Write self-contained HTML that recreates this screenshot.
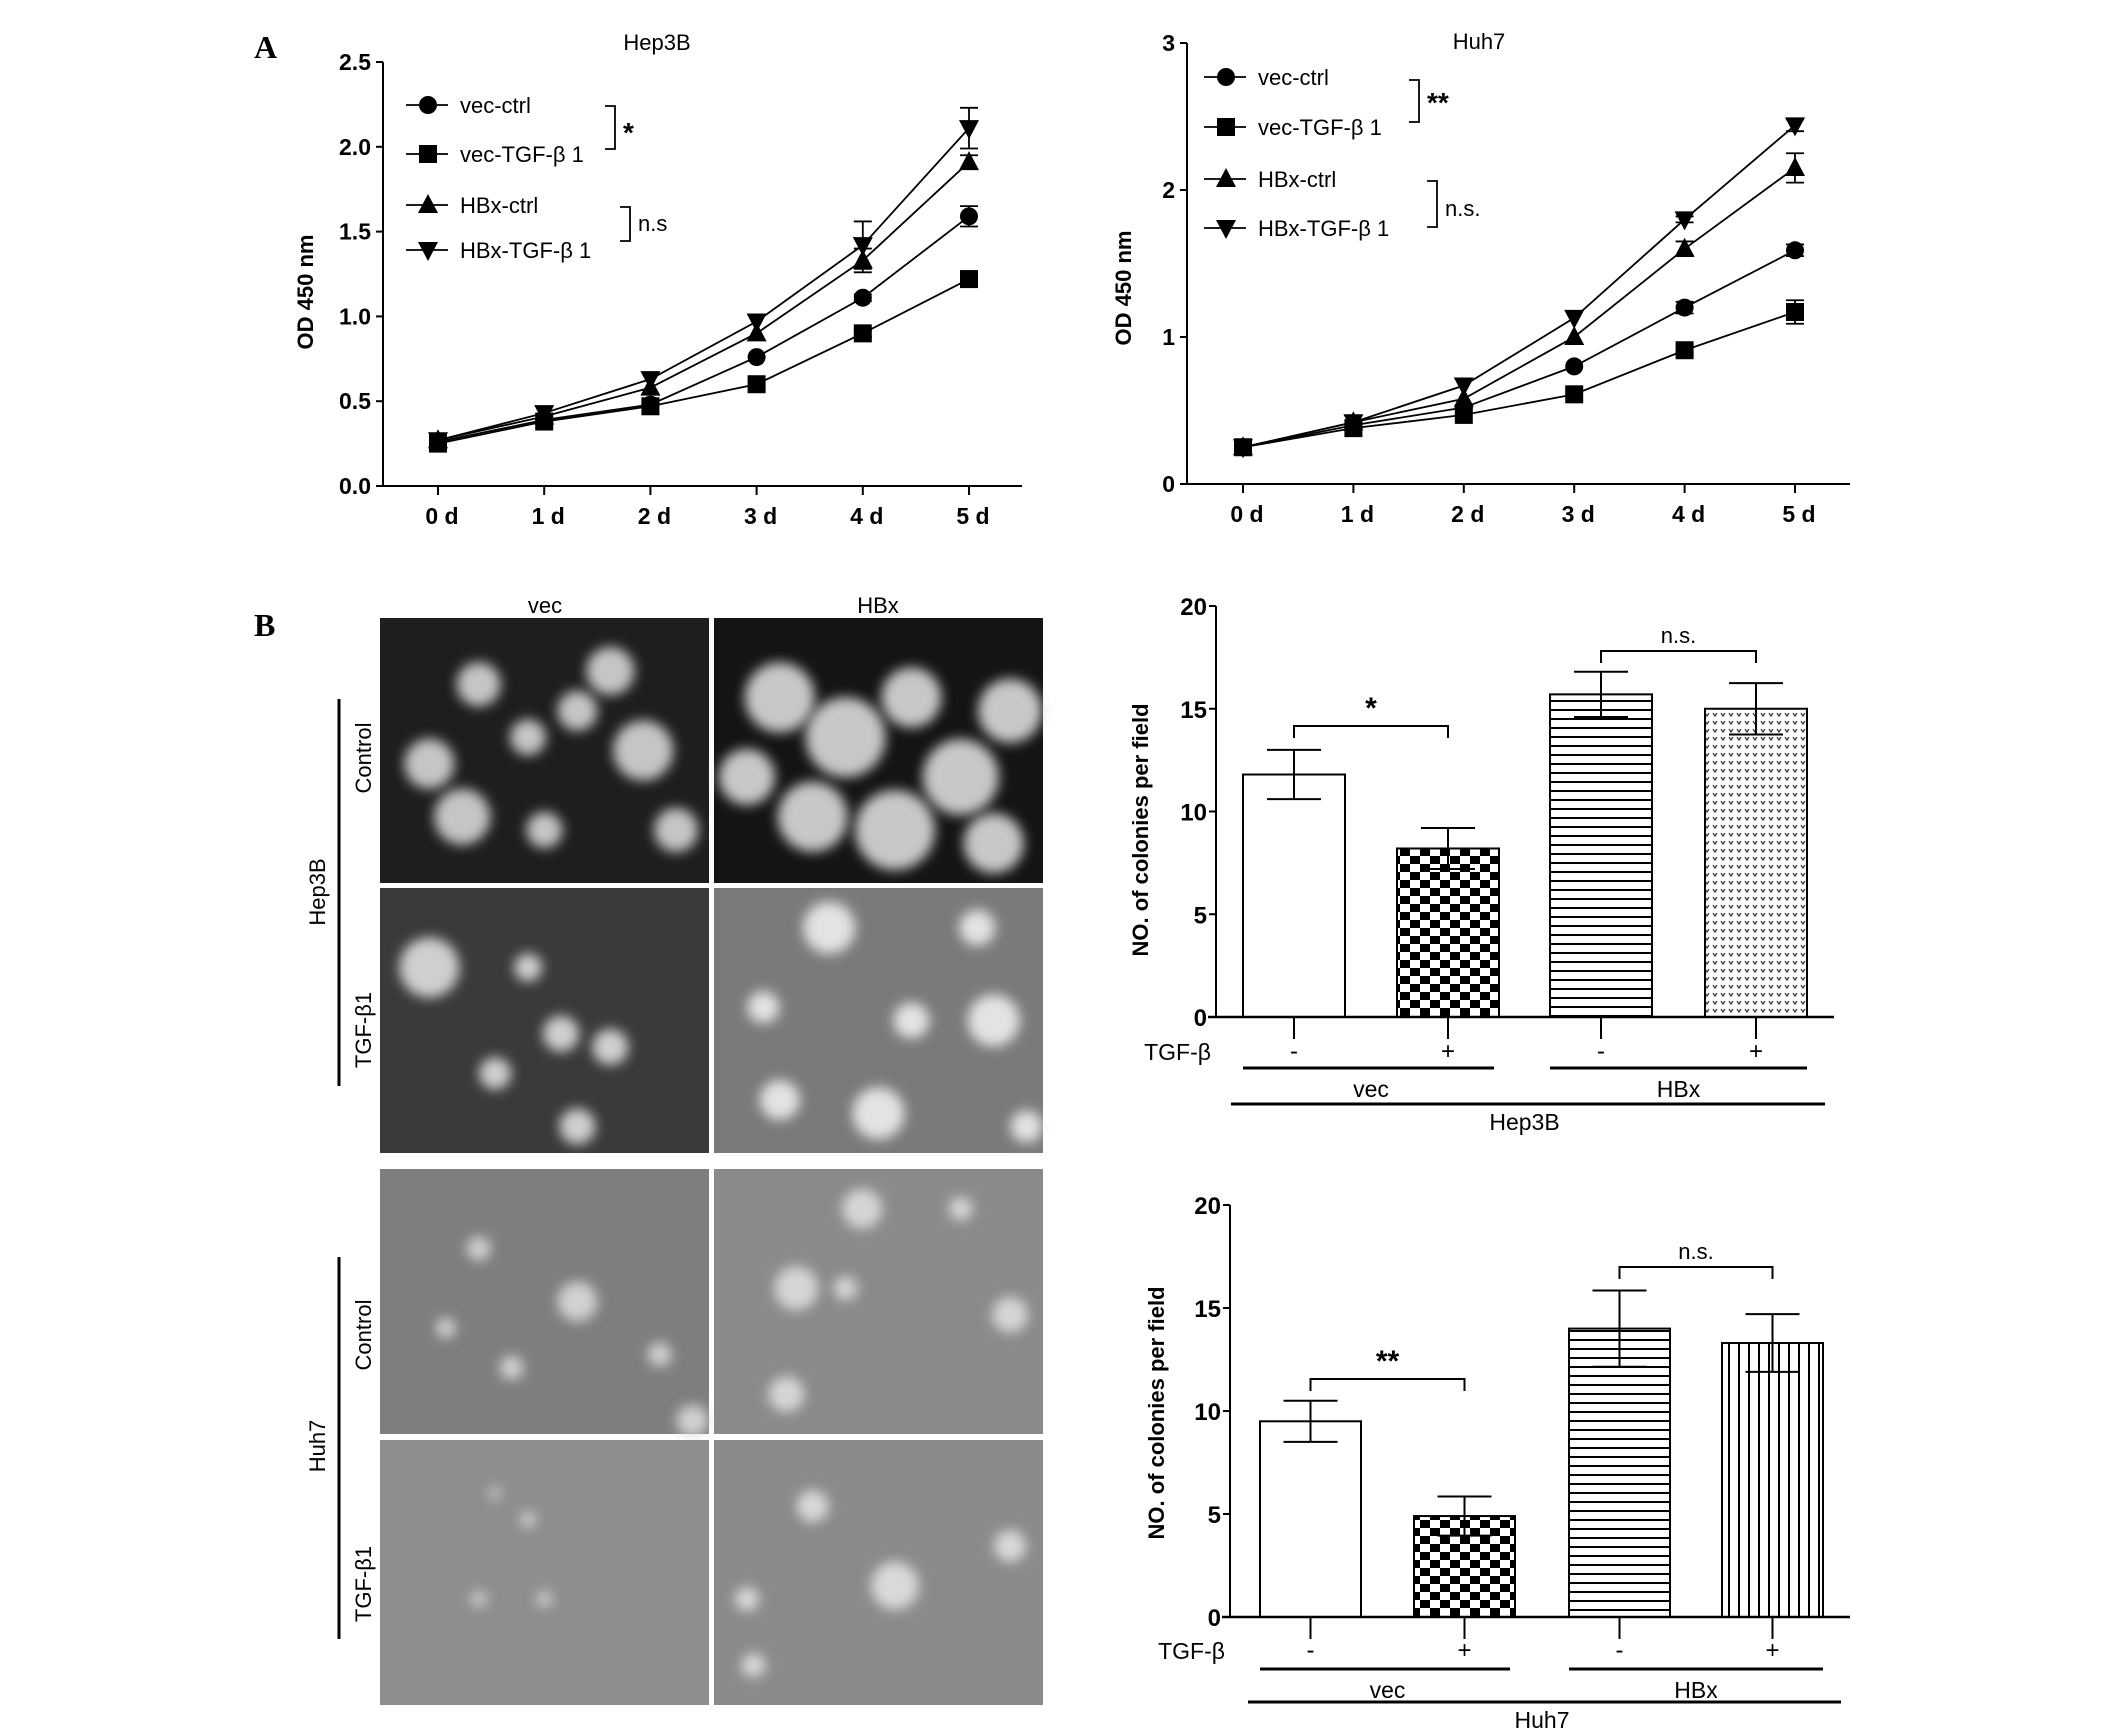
<!DOCTYPE html>
<html><head><meta charset="utf-8"><style>
html,body{margin:0;padding:0;background:#fff;}
svg{display:block;}
text{font-family:"Liberation Sans",sans-serif;fill:#000;}
</style></head><body>
<svg id="fig" width="2126" height="1729" viewBox="0 0 2126 1729" xmlns="http://www.w3.org/2000/svg">
<defs>
<pattern id="pCheck" width="20" height="16" patternUnits="userSpaceOnUse"><rect width="20" height="16" fill="#fff"/><rect width="10" height="8" fill="#000"/><rect x="10" y="8" width="10" height="8" fill="#000"/></pattern>
<pattern id="pHor" width="10" height="9" patternUnits="userSpaceOnUse"><rect width="10" height="9" fill="#fff"/><rect y="7" width="10" height="2" fill="#000"/></pattern>
<pattern id="pVer" width="10" height="10" patternUnits="userSpaceOnUse"><rect width="10" height="10" fill="#fff"/><rect x="8" width="2" height="10" fill="#000"/></pattern>
<pattern id="pDot" width="8" height="8" patternUnits="userSpaceOnUse"><rect width="8" height="8" fill="#fff"/><path d="M1 1 L3 4 L5 1" stroke="#333" stroke-width="1.2" fill="none"/></pattern>
<filter id="blur6" x="-150%" y="-150%" width="400%" height="400%"><feGaussianBlur stdDeviation="6"/></filter>
</defs>
<text x="254" y="58" style="font-family:'Liberation Serif',serif;font-weight:bold;font-size:32px">A</text>
<text x="254" y="636" style="font-family:'Liberation Serif',serif;font-weight:bold;font-size:32px">B</text>
<g id="photos"></g>
<g id="lc1"></g>
<g id="lc2"></g>
<g id="bc1"></g>
<g id="bc2"></g>
</svg>
<script>
// ---- growth curve data ----
const days = ["0 d","1 d","2 d","3 d","4 d","5 d"];
const seriesNames = ["vec-ctrl","vec-TGF-β 1","HBx-ctrl","HBx-TGF-β 1"];
const hepVecCtrl = [0.26,0.39,0.48,0.76,1.11,1.59];
const hepVecTgf  = [0.25,0.38,0.47,0.60,0.90,1.22];
const hepHbxCtrl = [0.27,0.41,0.58,0.90,1.33,1.91];
const hepHbxTgf  = [0.27,0.43,0.63,0.97,1.42,2.11];
const hepErr5 = [0.06,0.03,0.04,0.12];
const hepErr4 = [0.02,0.02,0.07,0.14];
const huhVecCtrl = [0.25,0.40,0.52,0.80,1.20,1.59];
const huhVecTgf  = [0.25,0.38,0.47,0.61,0.91,1.17];
const huhHbxCtrl = [0.25,0.42,0.58,1.00,1.60,2.15];
const huhHbxTgf  = [0.25,0.42,0.67,1.13,1.80,2.44];
const huhErr5 = [0.04,0.08,0.10,0.04];
const huhErr4 = [0.04,0.02,0.05,0.02];
const hepTicks = ["0.0","0.5","1.0","1.5","2.0","2.5"];
const huhTicks = ["0","1","2","3"];
// ---- colony data ----
const barGroups = ["-","+","-","+"];
const hepColonies = [11.8,8.2,15.7,15.0];
const hepColErr = [1.2,1.0,1.1,1.25];
const huhColonies = [9.5,4.9,14.0,13.3];
const huhColErr = [1.0,0.95,1.85,1.4];
const colTicks = ["0","5","10","15","20"];

const NS="http://www.w3.org/2000/svg";
function mk(parent,tag,attrs,txt){const e=document.createElementNS(NS,tag);for(const k in attrs)e.setAttribute(k,attrs[k]);if(txt!==undefined)e.textContent=txt;parent.appendChild(e);return e;}

function marker(g,kind,x,y){
  let m;
  if(kind===0){m=mk(g,'circle',{cx:x,cy:y,r:9,fill:'#000'});}
  else if(kind===1){m=mk(g,'rect',{x:x-9,y:y-9,width:18,height:18,fill:'#000'});}
  else if(kind===2){m=mk(g,'path',{d:`M${x} ${y-11}L${x+10} ${y+8}L${x-10} ${y+8}Z`,fill:'#000'});}
  else {m=mk(g,'path',{d:`M${x} ${y+11}L${x+10} ${y-8}L${x-10} ${y-8}Z`,fill:'#000'});}
  
  
}

function lineChart(id,o){
  const g=document.getElementById(id);
  const sx=i=>o.x0+(o.x5-o.x0)*i/5;
  const sy=v=>o.yb-(o.yb-o.yt)*v/o.ymax;
  let a=mk(g,'line',{x1:o.ax,y1:o.yt,x2:o.ax,y2:o.yb,stroke:'#000','stroke-width':2});
  
  a=mk(g,'line',{x1:o.ax,y1:o.yb,x2:o.xe,y2:o.yb,stroke:'#000','stroke-width':2});
  
  o.ticks.forEach((t,i)=>{const v=o.ymax*i/(o.ticks.length-1);const y=sy(v);
    mk(g,'line',{x1:o.ax-7,y1:y,x2:o.ax,y2:y,stroke:'#000','stroke-width':2});
    const tx=mk(g,'text',{x:o.ax-12,y:y+8,'text-anchor':'end','font-size':23,'font-weight':'bold'},t);
    });
  days.forEach((d,i)=>{const x=sx(i);
    mk(g,'line',{x1:x,y1:o.yb,x2:x,y2:o.yb+9,stroke:'#000','stroke-width':2});
    const tx=mk(g,'text',{x:x+4,y:o.yb+38,'text-anchor':'middle','font-size':23,'font-weight':'bold'},d);
    });
  let t=mk(g,'text',{x:o.tx,y:o.ty,'text-anchor':'middle','font-size':22},o.title);
  
  t=mk(g,'text',{transform:`translate(${o.ytx},${o.yty}) rotate(-90)`,'text-anchor':'middle','font-size':22,'font-weight':'bold'},'OD  450 nm');
  t.setAttribute('xml:space','preserve');
  
  o.series.forEach((s,k)=>{
    const p=mk(g,'polyline',{points:s.map((v,i)=>sx(i)+','+sy(v)).join(' '),fill:'none',stroke:'#000','stroke-width':1.8});
    
    [[4,o.e4],[5,o.e5]].forEach(([i,e])=>{const x=sx(i);
      mk(g,'line',{x1:x,y1:sy(s[i]+e[k]),x2:x,y2:sy(s[i]-e[k]),stroke:'#000','stroke-width':1.8});
      mk(g,'line',{x1:x-9,y1:sy(s[i]+e[k]),x2:x+9,y2:sy(s[i]+e[k]),stroke:'#000','stroke-width':1.8});
      mk(g,'line',{x1:x-9,y1:sy(s[i]-e[k]),x2:x+9,y2:sy(s[i]-e[k]),stroke:'#000','stroke-width':1.8});});
    s.forEach((v,i)=>marker(g,k,sx(i),sy(v)));
  });
  seriesNames.forEach((n,k)=>{const y=o.ly[k];
    mk(g,'line',{x1:o.lmx-22,y1:y,x2:o.lmx+20,y2:y,stroke:'#000','stroke-width':1.8});
    marker(g,k,o.lmx,y);
    const tx=mk(g,'text',{x:o.lmx+32,y:y+8,'font-size':22},n);
    });
  o.br.forEach(b=>{
    mk(g,'path',{d:`M${b.x-10} ${b.y1}H${b.x}V${b.y2}H${b.x-10}`,fill:'none',stroke:'#000','stroke-width':1.8});
    const tx=mk(g,'text',{x:b.x+8,y:b.ty,'font-size':b.fs,'font-weight':b.bold?'bold':'normal'},b.t);
    });
}

lineChart('lc1',{ax:383,xe:1022,x0:438,x5:969,yt:62,yb:486,ymax:2.5,ticks:hepTicks,title:'Hep3B',tx:657,ty:50,ytx:313,yty:292,
  series:[hepVecCtrl,hepVecTgf,hepHbxCtrl,hepHbxTgf],e4:hepErr4,e5:hepErr5,lmx:428,ly:[105,154,205,250],
  br:[{x:615,y1:106,y2:149,t:'*',ty:142,fs:28,bold:true},{x:630,y1:207,y2:241,t:'n.s',ty:231,fs:22}]});
lineChart('lc2',{ax:1187,xe:1850,x0:1243,x5:1795,yt:43,yb:484,ymax:3,ticks:huhTicks,title:'Huh7',tx:1479,ty:49,ytx:1131,yty:288,
  series:[huhVecCtrl,huhVecTgf,huhHbxCtrl,huhHbxTgf],e4:huhErr4,e5:huhErr5,lmx:1226,ly:[77,127,179,228],
  br:[{x:1419,y1:80,y2:122,t:'**',ty:112,fs:28,bold:true},{x:1437,y1:181,y2:227,t:'n.s.',ty:216,fs:22}]});

function barChart(id,o){
  const g=document.getElementById(id);
  const sy=v=>o.yb-(o.yb-o.yt)*v/20;
  o.fills.forEach((f,i)=>{const x=o.bx[i];const v=o.vals[i];const e=o.errs[i];
    const r=mk(g,'rect',{x:x,y:sy(v),width:o.bw,height:o.yb-sy(v),fill:f,stroke:'#000','stroke-width':2});
    
    const cx=x+o.bw/2;
    mk(g,'line',{x1:cx,y1:sy(v+e),x2:cx,y2:sy(v-e),stroke:'#000','stroke-width':2});
    mk(g,'line',{x1:cx-27,y1:sy(v+e),x2:cx+27,y2:sy(v+e),stroke:'#000','stroke-width':2});
    mk(g,'line',{x1:cx-27,y1:sy(v-e),x2:cx+27,y2:sy(v-e),stroke:'#000','stroke-width':2});
    mk(g,'line',{x1:cx,y1:o.yb,x2:cx,y2:o.yb+22,stroke:'#000','stroke-width':2});
    const tx=mk(g,'text',{x:cx,y:o.tgfY+8,'text-anchor':'middle','font-size':24},barGroups[i]);
    
  });
  let a=mk(g,'line',{x1:o.ax,y1:o.yt,x2:o.ax,y2:o.yb,stroke:'#000','stroke-width':2});
  
  a=mk(g,'line',{x1:o.ax-8,y1:o.yb,x2:o.xe,y2:o.yb,stroke:'#000','stroke-width':2.5});
  
  colTicks.forEach((t,i)=>{const y=sy(i*5);
    mk(g,'line',{x1:o.ax-7,y1:y,x2:o.ax,y2:y,stroke:'#000','stroke-width':2});
    const tx=mk(g,'text',{x:o.ax-9,y:y+9,'text-anchor':'end','font-size':24,'font-weight':'bold'},t);
    });
  let t=mk(g,'text',{transform:`translate(${o.ytx},${o.yty}) rotate(-90)`,'text-anchor':'middle','font-size':22,'font-weight':'bold'},'NO. of colonies per field');
  
  t=mk(g,'text',{x:o.ax-5,y:o.tgfY+9,'text-anchor':'end','font-size':23},'TGF-β');
  
  const c=i=>o.bx[i]+o.bw/2;
  mk(g,'line',{x1:o.bx[0],y1:o.gy,x2:o.bx[1]+o.bw-5,y2:o.gy,stroke:'#000','stroke-width':3});
  mk(g,'line',{x1:o.bx[2],y1:o.gy,x2:o.bx[3]+o.bw,y2:o.gy,stroke:'#000','stroke-width':3});
  t=mk(g,'text',{x:(c(0)+c(1))/2,y:o.gy+29,'text-anchor':'middle','font-size':23},'vec');
  t=mk(g,'text',{x:(c(2)+c(3))/2,y:o.gy+29,'text-anchor':'middle','font-size':23},'HBx');
  mk(g,'line',{x1:o.bx[0]-12,y1:o.cy,x2:o.bx[3]+o.bw+18,y2:o.cy,stroke:'#000','stroke-width':3});
  t=mk(g,'text',{x:(c(1)+c(2))/2,y:o.cy+26,'text-anchor':'middle','font-size':23},o.cell);
  o.sig.forEach(s=>{
    mk(g,'path',{d:`M${c(s.a)} ${s.y+12}V${s.y}H${c(s.b)}V${s.y+12}`,fill:'none',stroke:'#000','stroke-width':2});
    const tx=mk(g,'text',{x:(c(s.a)+c(s.b))/2,y:s.y-8,'text-anchor':'middle','font-size':s.fs,'font-weight':s.bold?'bold':'normal'},s.t);
    });
}
barChart('bc1',{ax:1216,xe:1834,yt:606,yb:1017,bx:[1243,1397,1550,1705],bw:102,vals:hepColonies,errs:hepColErr,
  fills:['#fff','url(#pCheck)','url(#pHor)','url(#pDot)'],tgfY:1051,gy:1068,cy:1104,cell:'Hep3B',ytx:1148,yty:830,
  sig:[{a:0,b:1,y:726,t:'*',fs:30,bold:true},{a:2,b:3,y:651,t:'n.s.',fs:22}]});
barChart('bc2',{ax:1230,xe:1850,yt:1205,yb:1617,bx:[1260,1414,1569,1722],bw:101,vals:huhColonies,errs:huhColErr,
  fills:['#fff','url(#pCheck)','url(#pHor)','url(#pVer)'],tgfY:1650,gy:1669,cy:1702,cell:'Huh7',ytx:1164,yty:1413,
  sig:[{a:0,b:1,y:1379,t:'**',fs:30,bold:true},{a:2,b:3,y:1267,t:'n.s.',fs:22}]});

// ---- micrographs (decorative) ----
(function(){
  const g=document.getElementById('photos');
  const X=[380,714], Y=[618,888,1169,1440];
  const panels=[
    {c:0,r:0,bg:'#1e1e1e',blob:'#d8d8d8',n:[[0.3,0.25,22],[0.45,0.45,18],[0.15,0.55,25],[0.8,0.5,30],[0.6,0.35,20],[0.5,0.8,18],[0.25,0.75,28],[0.7,0.2,24],[0.9,0.8,22]],name:'hep3b-vec-control'},
    {c:1,r:0,bg:'#141414',blob:'#dcdcdc',n:[[0.2,0.3,35],[0.4,0.45,40],[0.6,0.3,30],[0.75,0.6,38],[0.3,0.75,35],[0.55,0.8,40],[0.9,0.35,32],[0.85,0.85,30],[0.1,0.6,28]],name:'hep3b-hbx-control'},
    {c:0,r:1,bg:'#3a3a3a',blob:'#e0e0e0',n:[[0.45,0.3,14],[0.55,0.55,18],[0.7,0.6,18],[0.35,0.7,16],[0.6,0.9,18],[0.15,0.3,30]],name:'hep3b-vec-tgf'},
    {c:1,r:1,bg:'#7a7a7a',blob:'#efefef',n:[[0.35,0.15,26],[0.8,0.15,18],[0.15,0.45,16],[0.6,0.5,18],[0.85,0.5,26],[0.2,0.8,20],[0.5,0.85,26],[0.95,0.9,16]],name:'hep3b-hbx-tgf'},
    {c:0,r:2,bg:'#7e7e7e',blob:'#dadada',n:[[0.6,0.5,20],[0.3,0.3,12],[0.2,0.6,10],[0.85,0.7,12],[0.95,0.95,16],[0.4,0.75,12]],name:'huh7-vec-control'},
    {c:1,r:2,bg:'#8a8a8a',blob:'#dedede',n:[[0.45,0.15,20],[0.25,0.45,22],[0.9,0.55,18],[0.22,0.85,18],[0.75,0.15,12],[0.4,0.45,12]],name:'huh7-hbx-control'},
    {c:0,r:3,bg:'#8e8e8e',blob:'#d4d4d4',n:[[0.45,0.3,8],[0.5,0.6,8],[0.3,0.6,8],[0.35,0.2,6]],name:'huh7-vec-tgf'},
    {c:1,r:3,bg:'#8a8a8a',blob:'#e2e2e2',n:[[0.55,0.55,24],[0.3,0.25,16],[0.9,0.4,16],[0.1,0.6,12],[0.12,0.85,12]],name:'huh7-hbx-tgf'}
  ];
  panels.forEach(p=>{
    const w=329,h=265,px=X[p.c],py=Y[p.r];
    const gg=mk(g,'g',{});
    
    mk(gg,'rect',{x:px,y:py,width:w,height:h,fill:p.bg});
    p.n.forEach(b=>mk(gg,'circle',{cx:px+b[0]*w,cy:py+b[1]*h,r:b[2],fill:p.blob,filter:'url(#blur6)',opacity:0.9}));
  });
  const labs=[['vec',545,613],['HBx',878,613]];
  labs.forEach(l=>{const t=mk(g,'text',{x:l[1],y:l[2],'text-anchor':'middle','font-size':22},l[0]);});
  [[699,1086,'Hep3B',892,758,1030],[1257,1639,'Huh7',1446,1335,1584]].forEach(r=>{
    mk(g,'line',{x1:339,y1:r[0],x2:339,y2:r[1],stroke:'#000','stroke-width':3});
    let t=mk(g,'text',{transform:`translate(325,${r[3]}) rotate(-90)`,'text-anchor':'middle','font-size':22},r[2]);
    
    t=mk(g,'text',{transform:`translate(371,${r[4]}) rotate(-90)`,'text-anchor':'middle','font-size':22},'Control');
    
    t=mk(g,'text',{transform:`translate(371,${r[5]}) rotate(-90)`,'text-anchor':'middle','font-size':22},'TGF-β1');
    
  });
})();
</script>
</body></html>
